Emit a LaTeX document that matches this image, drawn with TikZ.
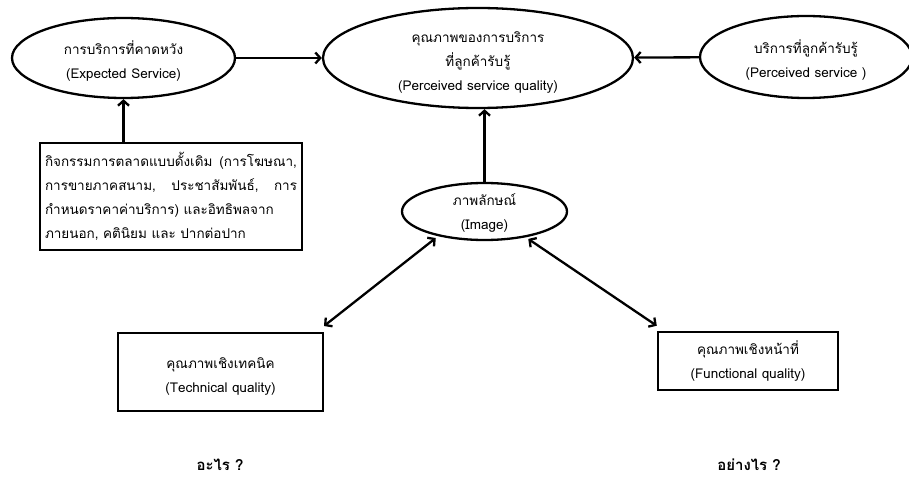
\documentclass[tikz,border=0pt]{standalone}
\usepackage{fontspec}
\setmainfont{Loma}[Script=Thai]
\usetikzlibrary{shapes.geometric,arrows.meta}
% centred lines that take no room, so the shape keeps its own size
\newcommand{\inner}[2][0pt]{\makebox[0pt]{\raisebox{#1}[0pt][0pt]{\begin{tabular}{@{}c@{}}#2\end{tabular}}}}
\newcommand{\fullline}[1]{\makebox[\linewidth][s]{#1}}
\begin{document}
\begin{tikzpicture}[x=1pt,y=-1pt,
  every node/.style={font=\fontsize{13.5}{24}\selectfont},
  oval/.style={ellipse,draw,line width=2.3pt,inner sep=0pt,align=center},
  card/.style={rectangle,draw,line width=2pt,inner sep=0pt,align=center},
  link/.style={line width=2.3pt,-{Straight Barb[length=5pt,width=11pt,line width=2.3pt]}},
  twoway/.style={line width=2.3pt,{Straight Barb[length=5pt,width=11pt,line width=2.3pt]}-{Straight Barb[length=5pt,width=11pt,line width=2.3pt]}},
  asklabel/.style={inner sep=0pt,font=\fontsize{15}{17}\selectfont\bfseries}]
\useasboundingbox (0,0) rectangle (909,478);

% ellipses along the top row
\node[oval,minimum width=223pt,minimum height=80pt] (exp) at (123.5,58)
  {\inner[-7pt]{การบริการที่คาดหวัง\\(Expected Service)}};
\node[oval,minimum width=310pt,minimum height=100pt] (pq) at (478,58)
  {\inner[-7pt]{คุณภาพของการบริการ\\ที่ลูกค้ารับรู้\\(Perceived service quality)}};
\node[oval,minimum width=212pt,minimum height=82pt] (ps) at (806,57)
  {\inner[-7pt]{บริการที่ลูกค้ารับรู้\\(Perceived service )}};

% traditional marketing activities
\node[card,minimum width=262pt,minimum height=107pt,line width=2.5pt] (mk) at (171,196.5)
  {\raisebox{-3pt}{\parbox{252pt}{\raggedright
   \fullline{กิจกรรมการตลาดแบบดั้งเดิม (การโฆษณา,}\\
   \fullline{การขายภาคสนาม, ประชาสัมพันธ์, การ}\\
   กำหนดราคาค่าบริการ) และอิทธิพลจาก\\
   ภายนอก, คตินิยม และ ปากต่อปาก}}};

% image
\node[oval,minimum width=165pt,minimum height=57pt] (img) at (484.5,211.5)
  {\inner[-4.5pt]{ภาพลักษณ์\\(Image)}};

% quality boxes
\node[card,minimum width=205pt,minimum height=78pt] (tech) at (220.5,372)
  {\inner[-7pt]{คุณภาพเชิงเทคนิค\\(Technical quality)}};
\node[card,minimum width=180pt,minimum height=58pt,line width=2.5pt] (func) at (748,361)
  {\inner[-4pt]{คุณภาพเชิงหน้าที่\\(Functional quality)}};

% questions
\node[asklabel] (what) at (220,465) {อะไร ?};
\node[asklabel] (how) at (749,465) {อย่างไร ?};

% connectors
\draw[link] (exp.east) -- (pq.west);
\draw[link] (ps) -- (pq);
\draw[link] (mk.north -| exp.south) -- (exp.south);
\draw[link] (img.north) -- (img.north |- pq.south);
\draw[twoway,shorten <=3pt] (img.208) -- ([yshift=6pt]tech.north east);
\draw[twoway,shorten <=3pt] (img.328) -- ([yshift=5pt]func.north west);
\end{tikzpicture}
\end{document}
